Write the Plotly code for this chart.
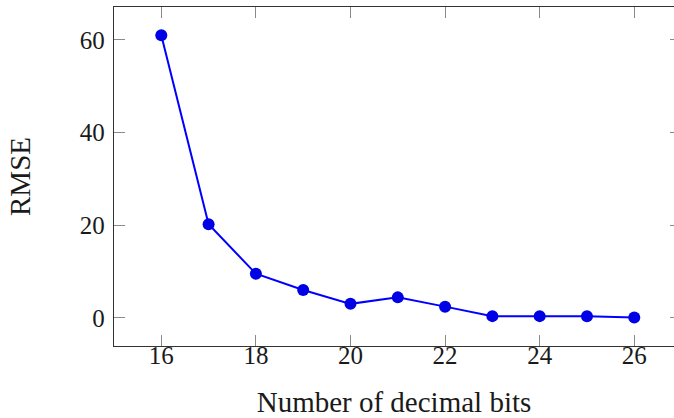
import plotly.graph_objects as go

# RMSE against the number of fractional (decimal) bits
decimal_bits = [16, 17, 18, 19, 20, 21, 22, 23, 24, 25, 26]
rmse = [61.0, 20.2, 9.5, 6.0, 3.0, 4.4, 2.4, 0.35, 0.35, 0.3, 0.05]

x_ticks = [16, 18, 20, 22, 24, 26]
y_ticks = [0, 20, 40, 60]

FONT = "Liberation Serif"
AXIS_COLOR = "#333333"
TICK_COLOR = "#8a8a8a"

fig = go.Figure()
fig.add_trace(go.Scatter(
    x=decimal_bits, y=rmse,
    mode="lines+markers",
    line=dict(color="#0000ff", width=2),
    marker=dict(color="#0000e6", size=12),
    showlegend=False,
))
# invisible trace carrying the right-hand tick marks
fig.add_trace(go.Scatter(x=decimal_bits, y=rmse, yaxis="y2",
                         mode="lines", line=dict(width=0),
                         hoverinfo="skip", showlegend=False))

fig.update_layout(
    width=674, height=418,
    margin=dict(l=114, r=0, t=7, b=72),
    paper_bgcolor="white", plot_bgcolor="white",
    font=dict(family=FONT, size=25, color="#1a1a1a"),
    xaxis=dict(
        range=[15, 26.84],
        tickvals=x_ticks,
        ticks="inside", ticklen=11, tickwidth=1, tickcolor=TICK_COLOR,
        ticklabelstandoff=-13,
        showline=True, linecolor=AXIS_COLOR, linewidth=1.3, mirror="ticks",
        showgrid=False, zeroline=False,
        title=dict(text="Number of decimal bits", standoff=26,
                   font=dict(size=29)),
    ),
    yaxis=dict(
        range=[-6.1, 67.1],
        tickvals=y_ticks,
        ticks="inside", ticklen=11, tickwidth=1, tickcolor=TICK_COLOR,
        ticklabelstandoff=3,
        showline=True, linecolor=AXIS_COLOR, linewidth=1.3,
        showgrid=False, zeroline=False,
        title=dict(text="RMSE", standoff=40, font=dict(size=29)),
    ),
    yaxis2=dict(
        overlaying="y", side="right", matches="y",
        tickvals=y_ticks, showticklabels=False,
        ticks="inside", ticklen=4, tickwidth=1, tickcolor=TICK_COLOR,
        showline=False, showgrid=False, zeroline=False,
    ),
)

fig.write_html("out.html")
